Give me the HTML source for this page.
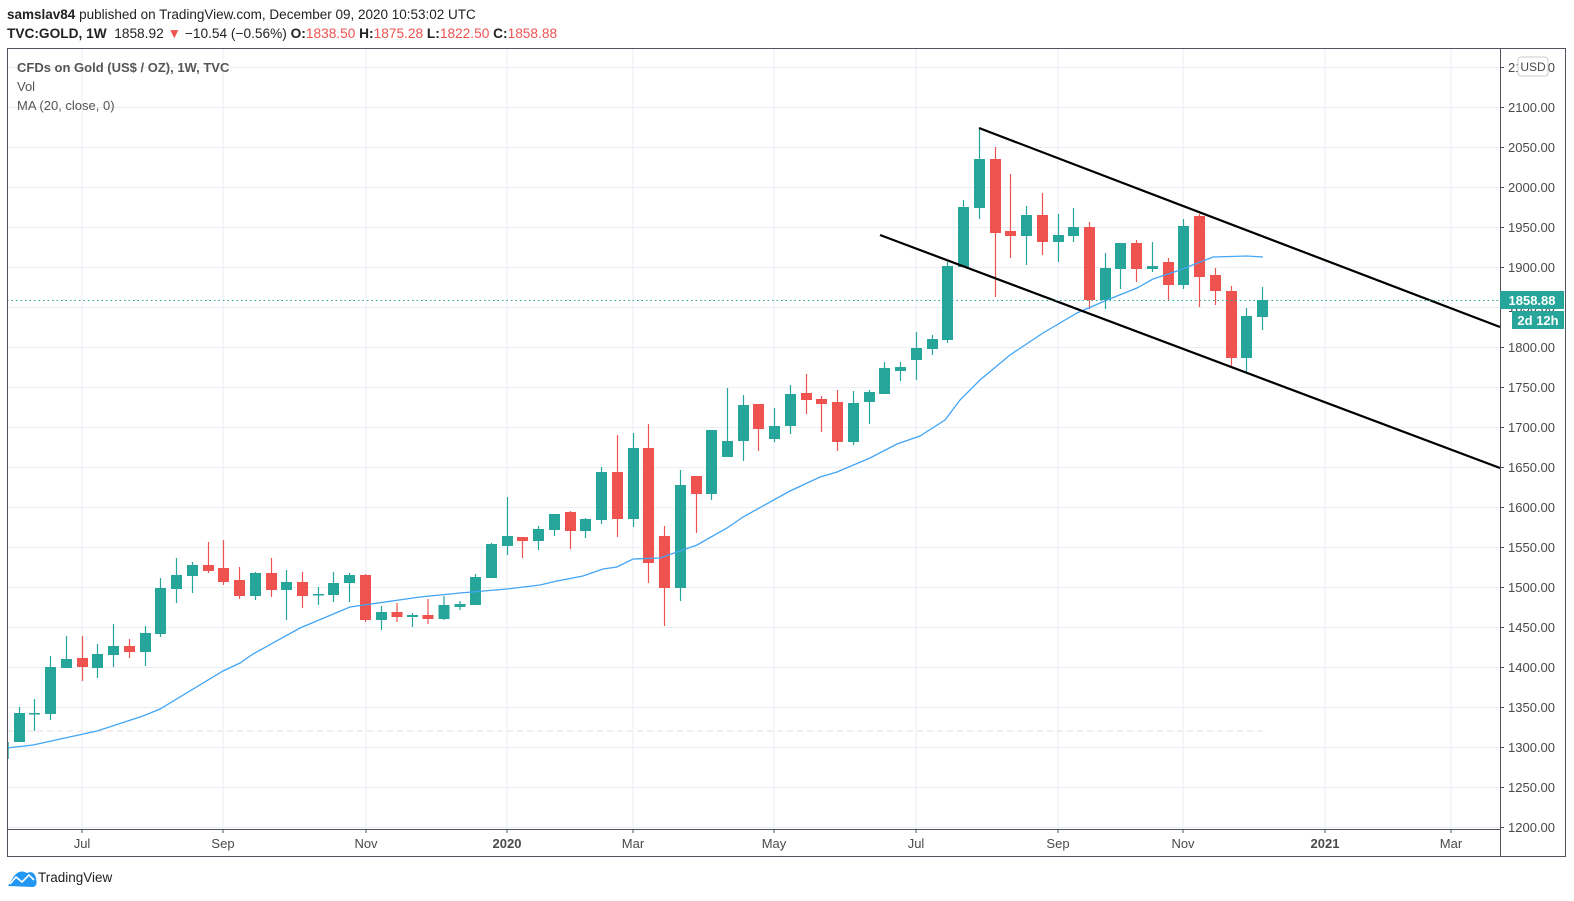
<!DOCTYPE html>
<html><head><meta charset="utf-8">
<style>
html,body{margin:0;padding:0;background:#fff;width:1574px;height:901px;overflow:hidden;font-family:"Liberation Sans",sans-serif;}
svg{position:absolute;left:0;top:0}
</style></head>
<body>
<svg id="s" width="1574" height="901" xmlns="http://www.w3.org/2000/svg" font-family="Liberation Sans, sans-serif">
<text x="7" y="19" font-size="13.5" fill="#222"><tspan font-weight="bold">samslav84</tspan> published on TradingView.com, December 09, 2020 10:53:02 UTC</text>
<text x="7" y="38" font-size="13.7" fill="#222"><tspan font-weight="bold">TVC:GOLD, 1W</tspan>&#160; 1858.92 <tspan fill="#ef5350">▼</tspan> −10.54 (−0.56%) <tspan font-weight="bold">O:</tspan><tspan fill="#ef5350">1838.50</tspan> <tspan font-weight="bold">H:</tspan><tspan fill="#ef5350">1875.28</tspan> <tspan font-weight="bold">L:</tspan><tspan fill="#ef5350">1822.50</tspan> <tspan font-weight="bold">C:</tspan><tspan fill="#ef5350">1858.88</tspan></text>
<g id="grid"></g>
<line x1="7" y1="731" x2="1265" y2="731" stroke="#e6dede" stroke-dasharray="6,4" stroke-width="1"/>
<g id="candles"></g>
<polyline fill="none" stroke="#42a5f5" stroke-width="1.3" points="7,748 33,745 97,731 143,716 160,709 223,671 240,663 253,654 300,628 350,607 420,597 460,593 507,589 540,585 557,581 583,576 603,569 617,567 633,559 660,558 697,545 727,528 743,517 790,491 820,477 837,472 870,458 897,444 920,436 945,420 960,400 980,380 1010,355 1043,333 1077,313 1107,300 1137,288 1153,279 1180,270 1213,257 1247,256 1263,257"/>
<line x1="979" y1="128" x2="1500" y2="327" stroke="#000" stroke-width="2.2"/>
<line x1="880" y1="235" x2="1500" y2="468" stroke="#000" stroke-width="2.2"/>
<line x1="7" y1="300.5" x2="1500" y2="300.5" stroke="#26a69a" stroke-dasharray="1.5,3" stroke-width="1"/>
<text x="17" y="72" font-size="13" fill="#555" font-weight="bold">CFDs on Gold (US$ / OZ), 1W, TVC</text>
<text x="17" y="91" font-size="13" fill="#555">Vol</text>
<text x="17" y="110" font-size="13" fill="#555">MA (20, close, 0)</text>
<rect x="7.5" y="48.5" width="1558" height="808" fill="none" stroke="#50535e" stroke-width="1"/>
<line x1="1500.5" y1="48" x2="1500.5" y2="857" stroke="#50535e"/>
<line x1="7" y1="829.5" x2="1500" y2="829.5" stroke="#50535e"/>
<g id="labels" font-size="13" fill="#4a4a4a"></g>
<rect x="1518" y="57" width="30" height="19" rx="3" fill="#fff" stroke="#c8ccd4"/>
<text x="1533" y="71" font-size="12" fill="#4a4a4a" text-anchor="middle">USD</text>
<rect x="1500" y="291" width="64" height="18" fill="#26a69a"/>
<text x="1532" y="305" font-size="13" fill="#fff" font-weight="bold" text-anchor="middle">1858.88</text>
<rect x="1512" y="311" width="52" height="18" fill="#26a69a"/>
<text x="1538" y="325" font-size="13" fill="#fff" font-weight="bold" text-anchor="middle">2d 12h</text>
<g font-size="13" fill="#4a4a4a" text-anchor="middle">
<text x="82" y="848">Jul</text><text x="223" y="848">Sep</text><text x="366" y="848">Nov</text><text x="507" y="848" font-weight="bold">2020</text><text x="633" y="848">Mar</text><text x="774" y="848">May</text><text x="916" y="848">Jul</text><text x="1058" y="848">Sep</text><text x="1183" y="848">Nov</text><text x="1325" y="848" font-weight="bold">2021</text><text x="1451" y="848">Mar</text>
</g>
<path d="M8,886 L14,876 Q20,869 27,873 Q34,870 36,878 Q38,886 33,887 Z" fill="#2196f3"/>
<polyline points="10,884 16,877 22,882 29,875 34,880" fill="none" stroke="#fff" stroke-width="1.6"/>
<text x="38" y="882" font-size="13.5" fill="#222">TradingView</text>
</svg>
<script>
var NS="http://www.w3.org/2000/svg";
function el(p,n,a){var e=document.createElementNS(NS,n);for(var k in a)e.setAttribute(k,a[k]);p.appendChild(e);return e;}
var grid=document.getElementById("grid"),lab=document.getElementById("labels");
for(var p=2150;p>=1200;p-=50){var y=107.5+(2100-p)*0.8;
 el(grid,"line",{x1:7,y1:y,x2:1500,y2:y,stroke:"#e9eef3","stroke-width":1});
 var t=el(lab,"text",{x:1508,y:y+4.5});t.textContent=p.toFixed(2);
 el(lab,"line",{x1:1500,y1:y,x2:1504,y2:y,stroke:"#50535e"});}
[82,223,366,507,633,774,916,1058,1183,1325,1451].forEach(function(x){
 el(grid,"line",{x1:x,y1:48,x2:x,y2:829,stroke:"#e9eef3","stroke-width":1});
 el(grid,"line",{x1:x,y1:829,x2:x,y2:833,stroke:"#50535e"});});
var g="#26a69a",r="#ef5350";
var C=[[19.5,713,742,707,742,g],[34.5,713,714,699,731,g],[50.5,667,714,656,720,g],[66.5,659,668,636,668,g],[82.5,658,667,636,681,r],[97.5,654,668,644,678,g],[113.5,646,655,624,667,g],[129.5,646,652,639,658,r],[145.5,633,652,626,666,g],[160.5,588,634,578,637,g],[176.5,575,589,558,603,g],[192.5,565,576,562,593,g],[208.5,565,571,542,573,r],[223.5,568,582,540,585,r],[239.5,580,596,567,599,r],[255.5,573,596,572,600,g],[271.5,573,590,558,597,r],[286.5,582,590,570,620,g],[302.5,582,596,572,608,r],[318.5,594,595,587,605,g],[333.5,583,595,572,602,g],[349.5,575,583,573,602,g],[365.5,575,620,574,622,r],[381.5,612,620,606,630,g],[397,612,617,603,622,r],[412.5,615,617,613,627,g],[428,615,619,599,624,r],[444,605,619,596,620,g],[460,604,607,601,610,g],[475.5,577,605,574,605,g],[491.5,544,578,543,578,g],[507.5,536,546,497,555,g],[522.5,537,541,537,558,r],[538.5,529,541,526,550,g],[554.5,514,530,514,536,g],[570.5,512,531,511,549,r],[585.5,519,531,518,538,g],[601.5,472,520,467,524,g],[617.5,472,519,435,537,r],[633.5,448,519,433,527,g],[648.5,448,563,424,583,r],[664.5,536,588,526,626,r],[680.5,485,588,470,601,g],[696.5,476,494,476,533,r],[711.5,430,494,430,500,g],[727.5,441,457,388,457,g],[743.5,405,441,395,461,g],[758.5,404,429,404,451,r],[774.5,426,439,408,442,g],[790.5,394,426,385,434,g],[806.5,393,400,374,414,r],[821.5,399,404,396,432,r],[837.5,402,442,390,451,r],[853.5,403,442,391,445,g],[869.5,392,402,390,424,g],[884.5,368,394,362,394,g],[900.5,367,371,362,381,g],[916.5,348,360,332,380,g],[932.5,339,349,335,355,g],[947.5,266,340,262,343,g],[963.5,207,267,200,267,g],[979.5,159,208,128,219,g],[995.5,159,233,147,297,r],[1010.5,231,236,174,258,r],[1026.5,215,236,206,265,g],[1042.5,215,242,193,255,r],[1058.5,235,242,214,262,g],[1073.5,227,236,208,242,g],[1089.5,227,300,222,309,r],[1105.5,268,300,253,309,g],[1120.5,243,269,243,289,g],[1136.5,243,269,240,282,r],[1152.5,266,269,242,272,g],[1168.5,262,285,258,300,r],[1183.5,226,285,219,289,g],[1199.5,216,277,214,307,r],[1215.5,275,291,268,305,r],[1231.5,291,358,286,367,r],[1246.5,316,358,308,373,g],[1262.5,300,317,287,330,g]];
var cg=document.getElementById("candles");
el(cg,"line",{x1:8,y1:742,x2:8,y2:759,stroke:g,"stroke-width":1.5});
C.forEach(function(c){
 el(cg,"line",{x1:c[0],y1:c[3],x2:c[0],y2:c[4],stroke:c[5],"stroke-width":1.2});
 var h=Math.max(1.5,c[2]-c[1]);
 el(cg,"rect",{x:c[0]-5.5,y:c[1],width:11,height:h,fill:c[5]});});
</script>
</body></html>
